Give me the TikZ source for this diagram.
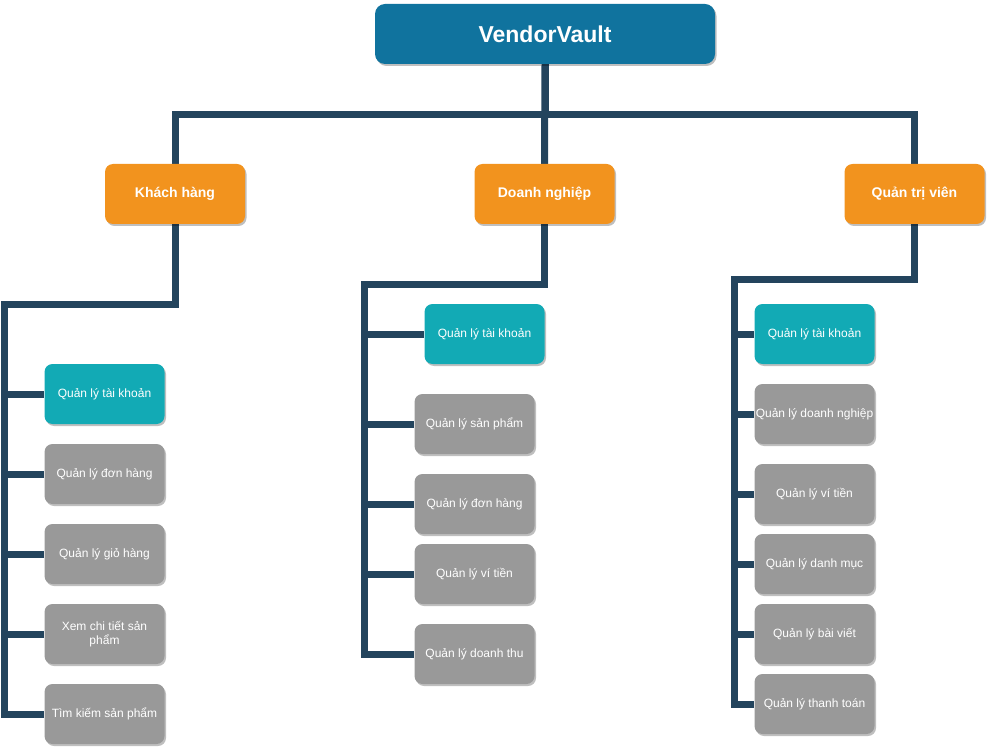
\documentclass[tikz,border=0pt]{standalone}
\usepackage{fontspec}
\setmainfont{Liberation Sans}
\usetikzlibrary{shadows,backgrounds}
\definecolor{topblue}{HTML}{10739E}
\definecolor{orangeC}{HTML}{F2931E}
\definecolor{tealC}{HTML}{12AAB5}
\definecolor{grayC}{HTML}{999999}
\definecolor{lineC}{HTML}{23445D}
\tikzset{
  box/.style={draw=none, rounded corners=8pt, text=white, inner sep=0pt, align=center,
    drop shadow={shadow xshift=1.5pt, shadow yshift=-2pt, opacity=0.25, fill=black}},
  topbox/.style={box, fill=topblue, minimum width=340pt, minimum height=60pt, font=\fontsize{23}{27}\selectfont\bfseries, rounded corners=10pt},
  midbox/.style={box, fill=orangeC, minimum width=140pt, minimum height=60pt, font=\fontsize{14}{17}\selectfont\bfseries},
  leafbox/.style={box, fill=grayC, minimum width=120pt, minimum height=60pt, font=\fontsize{12}{14}\selectfont},
  acctbox/.style={leafbox, fill=tealC},
  conn/.style={draw=lineC, line width=7pt}
}
\begin{document}
\begin{tikzpicture}[x=1pt,y=-1pt]
\useasboundingbox (0,0) rectangle (990,751);
\coordinate (hbar) at (544.5,115);
\coordinate (lbus) at (4.5,304.5);
\coordinate (mbus) at (364.5,284.5);
\coordinate (rbus) at (734.5,279.5);

\node[topbox] (top) at (545,34) {VendorVault};
\node[midbox] (kh) at (175,194) {Khách hàng};
\node[midbox] (dn) at (544.5,194) {Doanh nghiệp};
\node[midbox] (qt) at (914.5,194) {Quản trị viên};

\node[acctbox] (k1) at (104.5,394) {Quản lý tài khoản};
\node[leafbox] (k2) at (104.5,474) {Quản lý đơn hàng};
\node[leafbox] (k3) at (104.5,554) {Quản lý giỏ hàng};
\node[leafbox] (k4) at (104.5,634) {Xem chi tiết sản\\phẩm};
\node[leafbox] (k5) at (104.5,714) {Tìm kiếm sản phẩm};

\node[acctbox] (d1) at (484.5,334) {Quản lý tài khoản};
\node[leafbox] (d2) at (474.5,424) {Quản lý sản phẩm};
\node[leafbox] (d3) at (474.5,504) {Quản lý đơn hàng};
\node[leafbox] (d4) at (474.5,574) {Quản lý ví tiền};
\node[leafbox] (d5) at (474.5,654) {Quản lý doanh thu};

\node[acctbox] (q1) at (814.5,334) {Quản lý tài khoản};
\node[leafbox] (q2) at (814.5,414) {Quản lý doanh nghiệp};
\node[leafbox] (q3) at (814.5,494) {Quản lý ví tiền};
\node[leafbox] (q4) at (814.5,564) {Quản lý danh mục};
\node[leafbox] (q5) at (814.5,634) {Quản lý bài viết};
\node[leafbox] (q6) at (814.5,704) {Quản lý thanh toán};

\begin{scope}[on background layer]
  % level 1
  \draw[conn] (top.south) |- (hbar) -| (kh.north);
  \draw[conn] (top.south) |- (hbar) -| (qt.north);
  \draw[conn] (top.south) -- (dn.north);
  % customer
  \foreach \c in {k1,k2,k3,k4,k5}
    \draw[conn] (kh.south) |- (lbus) |- (\c.west);
  % business
  \foreach \c in {d1,d2,d3,d4,d5}
    \draw[conn] (dn.south) |- (mbus) |- (\c.west);
  % admin
  \foreach \c in {q1,q2,q3,q4,q5,q6}
    \draw[conn] (qt.south) |- (rbus) |- (\c.west);
\end{scope}
\end{tikzpicture}
\end{document}
